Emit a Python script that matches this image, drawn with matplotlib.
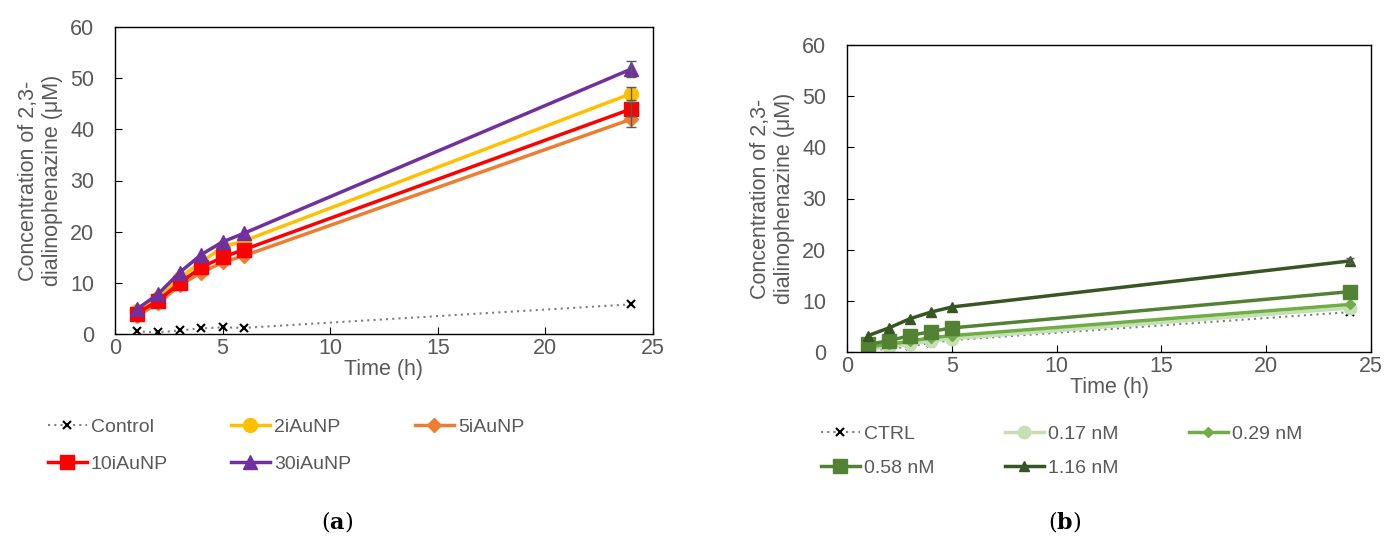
"""Two-panel time course of 2,3-dialinophenazine formation."""

import matplotlib
matplotlib.use("Agg")
import matplotlib.pyplot as plt

plt.rcParams["font.family"] = ["Liberation Sans", "DejaVu Sans"]
plt.rcParams["mathtext.fontset"] = "dejavuserif"

TEXT = "#595959"
W, H = 1384, 538

# Panel (a): nanoparticle variants
time_a = [1, 2, 3, 4, 5, 6, 24]
control_a = [0.5, 0.3, 0.7, 1.1, 1.3, 1.2, 5.8]
au2 = [4.5, 7.0, 11.0, 14.0, 17.0, 18.2, 47.0]
au5 = [3.5, 6.0, 9.5, 12.0, 14.0, 15.3, 42.0]
au10 = [4.0, 6.5, 10.0, 13.0, 15.0, 16.5, 44.0]
au30 = [4.8, 7.8, 12.0, 15.5, 18.0, 19.7, 51.8]
err_a = [1.2, 1.5, 1.4, 1.5]  # 2i, 5i, 10i, 30i at 24 h

# Panel (b): concentrations
time_b = [1, 2, 3, 4, 5, 24]
ctrl_b = [0.3, 0.6, 1.1, 1.8, 2.3, 7.8]
c017 = [0.5, 1.0, 1.5, 2.2, 2.6, 8.6]
c029 = [1.0, 1.5, 2.1, 2.8, 3.2, 9.3]
c058 = [1.5, 2.2, 3.2, 4.0, 4.7, 11.8]
c116 = [3.2, 4.7, 6.5, 7.8, 8.8, 17.8]

YLABEL = "Concentration of 2,3-\ndialinophenazine (\u03bcM)"


def style_axes(ax):
    ax.set_xlim(0, 25)
    ax.set_ylim(0, 60)
    ax.set_xticks(range(0, 26, 5))
    ax.set_yticks(range(0, 61, 10))
    ax.tick_params(direction="in", labelsize=15.5, colors="black",
                   labelcolor=TEXT, length=5)
    ax.tick_params(axis="y", pad=15)
    ax.tick_params(axis="x", pad=3)
    for s in ax.spines.values():
        s.set_color("black")
        s.set_linewidth(1.0)
    ax.set_xlabel("Time (h)", fontsize=15.5, color=TEXT, labelpad=0)
    ax.set_ylabel(YLABEL, fontsize=15.5, color=TEXT, labelpad=5,
                  linespacing=1.2)


def column_legends(handles, labels, x_cols, y_top, spacing):
    # one legend per column so each column sits at its own x position
    for i, x in enumerate(x_cols):
        fig.legend(handles[i::3], labels[i::3], loc="upper left",
                   bbox_to_anchor=(x / W, 1 - y_top / H),
                   frameon=False, fontsize=14, labelcolor=TEXT,
                   handlelength=2.0, handletextpad=0.2,
                   labelspacing=spacing, borderpad=0, borderaxespad=0)


fig = plt.figure(figsize=(W / 100, H / 100), dpi=100)
ax1 = fig.add_axes([115 / W, 1 - 334 / H, 538 / W, 307 / H])
ax2 = fig.add_axes([847 / W, 1 - 352 / H, 524 / W, 307 / H])

# ---- panel (a)
h_ctrl, = ax1.plot(time_a, control_a, ls=(0, (1, 2)), color="#7f7f7f",
                   lw=1.5, marker="x", mec="black", ms=6, mew=1.5)
series_a = [
    (au2, "#ffc000", "o", 10, err_a[0]),
    (au5, "#ed7d31", "D", 7, err_a[1]),
    (au10, "#ff0000", "s", 10, err_a[2]),
    (au30, "#7030a0", "^", 10, err_a[3]),
]
ha = [h_ctrl]
for y, c, m, ms, e in series_a:
    h, = ax1.plot(time_a, y, color=c, lw=2.5, marker=m, ms=ms)
    ax1.errorbar(time_a[-1], y[-1], yerr=e, fmt="none", ecolor="#595959",
                 elinewidth=1, capsize=3.5)
    ha.append(h)
style_axes(ax1)
column_legends(ha, ["Control", "2iAuNP", "5iAuNP", "10iAuNP", "30iAuNP"],
               [48, 231, 415], 418, 1.0)

# ---- panel (b)
h_ctrl_b, = ax2.plot(time_b, ctrl_b, ls=(0, (1, 2)), color="#7f7f7f",
                     lw=1.5, marker="x", mec="black", ms=6, mew=1.5)
series_b = [
    (c017, "#c5e0b4", "o", 9),
    (c029, "#70ad47", "D", 5),
    (c058, "#548235", "s", 10),
    (c116, "#375623", "^", 7),
]
hb = [h_ctrl_b]
for y, c, m, ms in series_b:
    h, = ax2.plot(time_b, y, color=c, lw=2.5, marker=m, ms=ms)
    hb.append(h)
ax2.errorbar(time_b[-1], c116[-1], yerr=0.5, fmt="none", ecolor="#595959",
             elinewidth=1, capsize=3)
style_axes(ax2)
column_legends(hb, ["CTRL", "0.17 nM", "0.29 nM", "0.58 nM", "1.16 nM"],
               [821, 1005, 1189], 425, 0.85)

# panel letters
fig.text(337 / W, 1 - 521 / H, r"($\mathbf{a}$)", fontsize=16,
         family="DejaVu Serif", ha="center", va="center")
fig.text(1065 / W, 1 - 521 / H, r"($\mathbf{b}$)", fontsize=16,
         family="DejaVu Serif", ha="center", va="center")

fig.savefig("out.png", dpi=100)
